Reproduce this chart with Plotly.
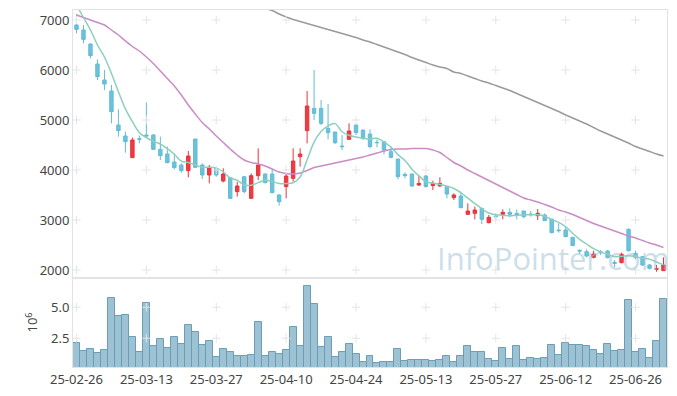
import plotly.graph_objects as go
from plotly.subplots import make_subplots

dates = ["25-02-26","25-02-27","25-02-28","25-03-04","25-03-05","25-03-06","25-03-07","25-03-10","25-03-11","25-03-12",
         "25-03-13","25-03-14","25-03-17","25-03-18","25-03-19","25-03-20","25-03-21","25-03-24","25-03-25","25-03-26",
         "25-03-27","25-03-28","25-03-31","25-04-01","25-04-02","25-04-03","25-04-04","25-04-07","25-04-08","25-04-09",
         "25-04-10","25-04-11","25-04-14","25-04-15","25-04-16","25-04-17","25-04-18","25-04-21","25-04-22","25-04-23",
         "25-04-24","25-04-25","25-04-28","25-04-29","25-04-30","25-05-02","25-05-07","25-05-08","25-05-09","25-05-12",
         "25-05-13","25-05-14","25-05-15","25-05-16","25-05-19","25-05-20","25-05-21","25-05-22","25-05-23","25-05-26",
         "25-05-27","25-05-28","25-05-29","25-05-30","25-06-02","25-06-04","25-06-05","25-06-09","25-06-10","25-06-11",
         "25-06-12","25-06-13","25-06-16","25-06-17","25-06-18","25-06-19","25-06-20","25-06-23","25-06-24","25-06-25",
         "25-06-26","25-06-27","25-06-30","25-07-01","25-07-02"]

open_ = [6900,6800,6520,6120,5800,5580,4900,4680,4247,4627,
         4700,4700,4413,4320,4160,4100,3987,4620,4100,3900,
         4033,3780,3847,3567,3867,3433,3887,3920,3920,3500,
         3667,3833,4267,4787,5233,5233,4833,4760,4480,4613,
         4900,4800,4720,4553,4567,4367,4220,3913,3920,3700,
         3880,3687,3680,3667,3447,3480,3113,3133,3233,2947,
         3080,3113,3153,3133,3180,3120,3087,3100,3020,2800,
         2800,2653,2393,2367,2253,2367,2380,2153,2147,2813,
         2333,2267,2100,2013,1987]
high = [7120,6900,6530,6213,6000,5700,5213,4767,4647,4687,
        5353,4720,4667,4467,4333,4133,4380,4620,4133,4100,
        4053,4033,3847,3767,3867,3933,4433,3933,4013,3520,
        3933,4433,4433,5580,6000,5400,5320,4760,4700,4933,
        4900,4800,4813,4613,4567,4467,4220,3953,3933,3887,
        3900,3787,3853,3667,3533,3567,3333,3267,3233,3100,
        3133,3213,3233,3213,3180,3180,3220,3133,3020,2933,
        2867,2653,2413,2413,2387,2400,2400,2200,2347,2833,
        2387,2280,2120,2100,2253]
low = [6733,6533,6233,5800,5600,4933,4667,4347,4247,4533,
       4667,4400,4200,4133,4013,3947,3853,4053,3820,3733,
       3867,3753,3420,3467,3533,3433,3800,3733,3533,3287,
       3433,3767,4067,4533,5000,4900,4613,4520,4400,4600,
       4700,4600,4433,4453,4313,4233,3813,3833,3667,3680,
       3653,3600,3667,3433,3400,3233,3100,3013,2920,2933,
       3013,3013,3053,3013,3033,3067,3000,2987,2733,2747,
       2653,2480,2320,2253,2233,2300,2233,2053,2133,2367,
       2213,2080,2013,1967,1987]
close = [6813,6613,6287,5867,5720,5167,4787,4567,4600,4613,
         4680,4413,4287,4147,4047,3987,4280,4053,3900,4053,
         3900,3920,3433,3680,3567,3887,4100,3747,3547,3367,
         3880,4180,4320,5280,5133,4933,4747,4547,4467,4780,
         4747,4633,4467,4547,4400,4253,3867,3887,3680,3733,
         3667,3733,3733,3520,3500,3247,3180,3200,3013,3053,
         3067,3153,3113,3093,3067,3107,3133,2987,2747,2787,
         2667,2487,2380,2280,2320,2347,2247,2133,2313,2387,
         2253,2100,2033,2027,2100]

ma_short = [7300,7050,6800,6500,6260,5930,5566,5222,4968,4747,
            4649,4575,4519,4428,4315,4176,4150,4103,4053,4055,
            4037,3965,3841,3797,3700,3697,3747,3796,3770,3730,
            3728,3744,3859,4205,4559,4769,4883,4928,4765,4695,
            4658,4635,4619,4635,4559,4460,4307,4191,4017,3884,
            3767,3740,3709,3677,3631,3547,3436,3329,3228,3139,
            3103,3097,3080,3096,3099,3107,3103,3077,3008,2952,
            2864,2735,2614,2520,2427,2363,2315,2265,2272,2285,
            2267,2237,2217,2160,2103]
ma_mid = [7100,7050,7000,6950,6900,6800,6700,6580,6470,6380,
          6260,6130,5980,5830,5680,5500,5300,5120,4950,4820,
          4680,4550,4420,4300,4200,4150,4120,4080,4020,3960,
          3930,3920,3940,3990,4050,4080,4110,4140,4170,4200,
          4230,4260,4300,4340,4380,4410,4420,4420,4430,4430,
          4430,4400,4350,4250,4150,4080,4000,3930,3860,3790,
          3720,3650,3580,3510,3440,3400,3360,3310,3260,3200,
          3160,3110,3050,2990,2930,2880,2830,2780,2730,2680,
          2640,2590,2540,2500,2450]
ma_long = [8600,8560,8520,8480,8440,8400,8350,8300,8250,8200,
           8150,8090,8030,7970,7910,7850,7790,7730,7670,7610,
           7550,7500,7450,7400,7350,7310,7270,7230,7190,7120,
           7060,7010,6970,6930,6890,6850,6810,6770,6730,6690,
           6650,6600,6560,6510,6460,6410,6360,6310,6250,6200,
           6150,6100,6060,6030,5960,5930,5880,5830,5780,5740,
           5690,5640,5590,5530,5470,5410,5350,5290,5230,5170,
           5100,5040,4980,4920,4850,4780,4720,4660,4600,4540,
           4470,4420,4370,4320,4280]

volume = [2.10,1.48,1.61,1.29,1.56,5.73,4.30,4.38,2.58,1.37,
          5.32,1.88,2.42,1.69,2.58,2.04,3.57,2.98,1.96,2.28,
          0.97,1.61,1.40,1.07,1.07,1.13,3.79,1.07,1.37,1.23,
          1.56,3.44,1.88,6.72,5.27,1.77,2.63,0.97,1.37,2.04,
          1.21,0.56,1.05,0.48,0.56,0.56,1.61,0.65,0.73,0.73,
          0.73,0.65,0.73,1.05,0.56,1.05,1.85,1.37,1.37,0.81,
          0.65,1.69,0.81,1.85,0.73,0.89,0.81,0.89,1.93,1.13,
          2.10,1.93,1.93,1.85,1.53,1.21,2.02,1.45,1.53,5.56,
          1.37,1.61,0.89,2.26,5.65]

price_ticks = [2000, 3000, 4000, 5000, 6000, 7000]
vol_ticks = [2.5, 5.0]
vol_ticktext = ["2.5", "5.0"]
x_tick_idx = list(range(0, len(dates), 10))
x_ticks = [dates[k] for k in x_tick_idx]

FONT = "Noto Sans"
GRID = "#e4e4e4"
BORDER = "#e3e3e3"

fig = make_subplots(rows=2, cols=1, shared_xaxes=True, vertical_spacing=0,
                    row_heights=[0.7507, 0.2493])

fig.add_trace(go.Candlestick(x=dates, open=open_, high=high, low=low, close=close,
                             increasing=dict(line=dict(color="#e8343a", width=1), fillcolor="#ee3a40"),
                             decreasing=dict(line=dict(color="#62bcd6", width=1), fillcolor="#6cc2da"),
                             showlegend=False), row=1, col=1)

fig.add_trace(go.Scatter(x=dates, y=ma_long, mode="lines", line=dict(color="#9a9a9a", width=1.5, shape="spline"),
                         showlegend=False, hoverinfo="skip"), row=1, col=1)
fig.add_trace(go.Scatter(x=dates, y=ma_mid, mode="lines", line=dict(color="#c98cc6", width=1.5, shape="spline"),
                         showlegend=False, hoverinfo="skip"), row=1, col=1)
fig.add_trace(go.Scatter(x=dates, y=ma_short, mode="lines", line=dict(color="#8ccfbf", width=1.5, shape="spline"),
                         showlegend=False, hoverinfo="skip"), row=1, col=1)

fig.add_trace(go.Bar(x=dates, y=volume, marker=dict(color="#9cc2d3", line=dict(color="#6b9db6", width=1)),
                     showlegend=False), row=2, col=1)

# grid crosses
gx = [x for x in x_ticks for _ in price_ticks]
gy = [y for _ in x_ticks for y in price_ticks]
fig.add_trace(go.Scatter(x=gx, y=gy, mode="markers", hoverinfo="skip", showlegend=False,
                         marker=dict(symbol="cross-thin", size=6, line=dict(color=GRID, width=1))),
              row=1, col=1)
gx2 = [x for x in x_ticks for _ in vol_ticks]
gy2 = [y for _ in x_ticks for y in vol_ticks]
fig.add_trace(go.Scatter(x=gx2, y=gy2, mode="markers", hoverinfo="skip", showlegend=False,
                         marker=dict(symbol="cross-thin", size=6, line=dict(color=GRID, width=1))),
              row=2, col=1)

fig.update_layout(
    width=669, height=388,
    margin=dict(l=65, r=10, t=2, b=29),
    paper_bgcolor="white", plot_bgcolor="white",
    font=dict(family=FONT, size=13, color="#444"),
    bargap=0,
    showlegend=False,
    annotations=[dict(text="InfoPointer.com", xref="paper", yref="paper", x=0.808, y=0.306,
                      xanchor="center", yanchor="middle",
                      showarrow=False, font=dict(family="Open Sans", size=31, color="rgba(160,195,214,0.55)"))],
)
fig.update_xaxes(type="category", categoryorder="array", categoryarray=dates, automargin=False,
                 range=[-0.5, len(dates) - 0.5], showgrid=False, zeroline=False,
                 showline=True, mirror=True, linecolor=BORDER, rangeslider_visible=False,
                 tickmode="array", tickvals=x_ticks, ticktext=x_ticks, ticks="", tickangle=0)
fig.update_xaxes(showticklabels=False, row=1, col=1)
fig.update_yaxes(range=[1840, 7200], tickvals=price_ticks, showgrid=False, zeroline=False, automargin=False,
                 showline=True, mirror=True, linecolor=BORDER, ticks="", row=1, col=1)
fig.update_yaxes(range=[0.18, 7.36], tickvals=vol_ticks, ticktext=vol_ticktext, showgrid=False, zeroline=False,
                 automargin=False, showline=True, mirror=True, linecolor=BORDER, ticks="",
                 title=dict(text="10<sup>6</sup>", font=dict(size=13), standoff=10), row=2, col=1)

fig.write_html("out.html")
